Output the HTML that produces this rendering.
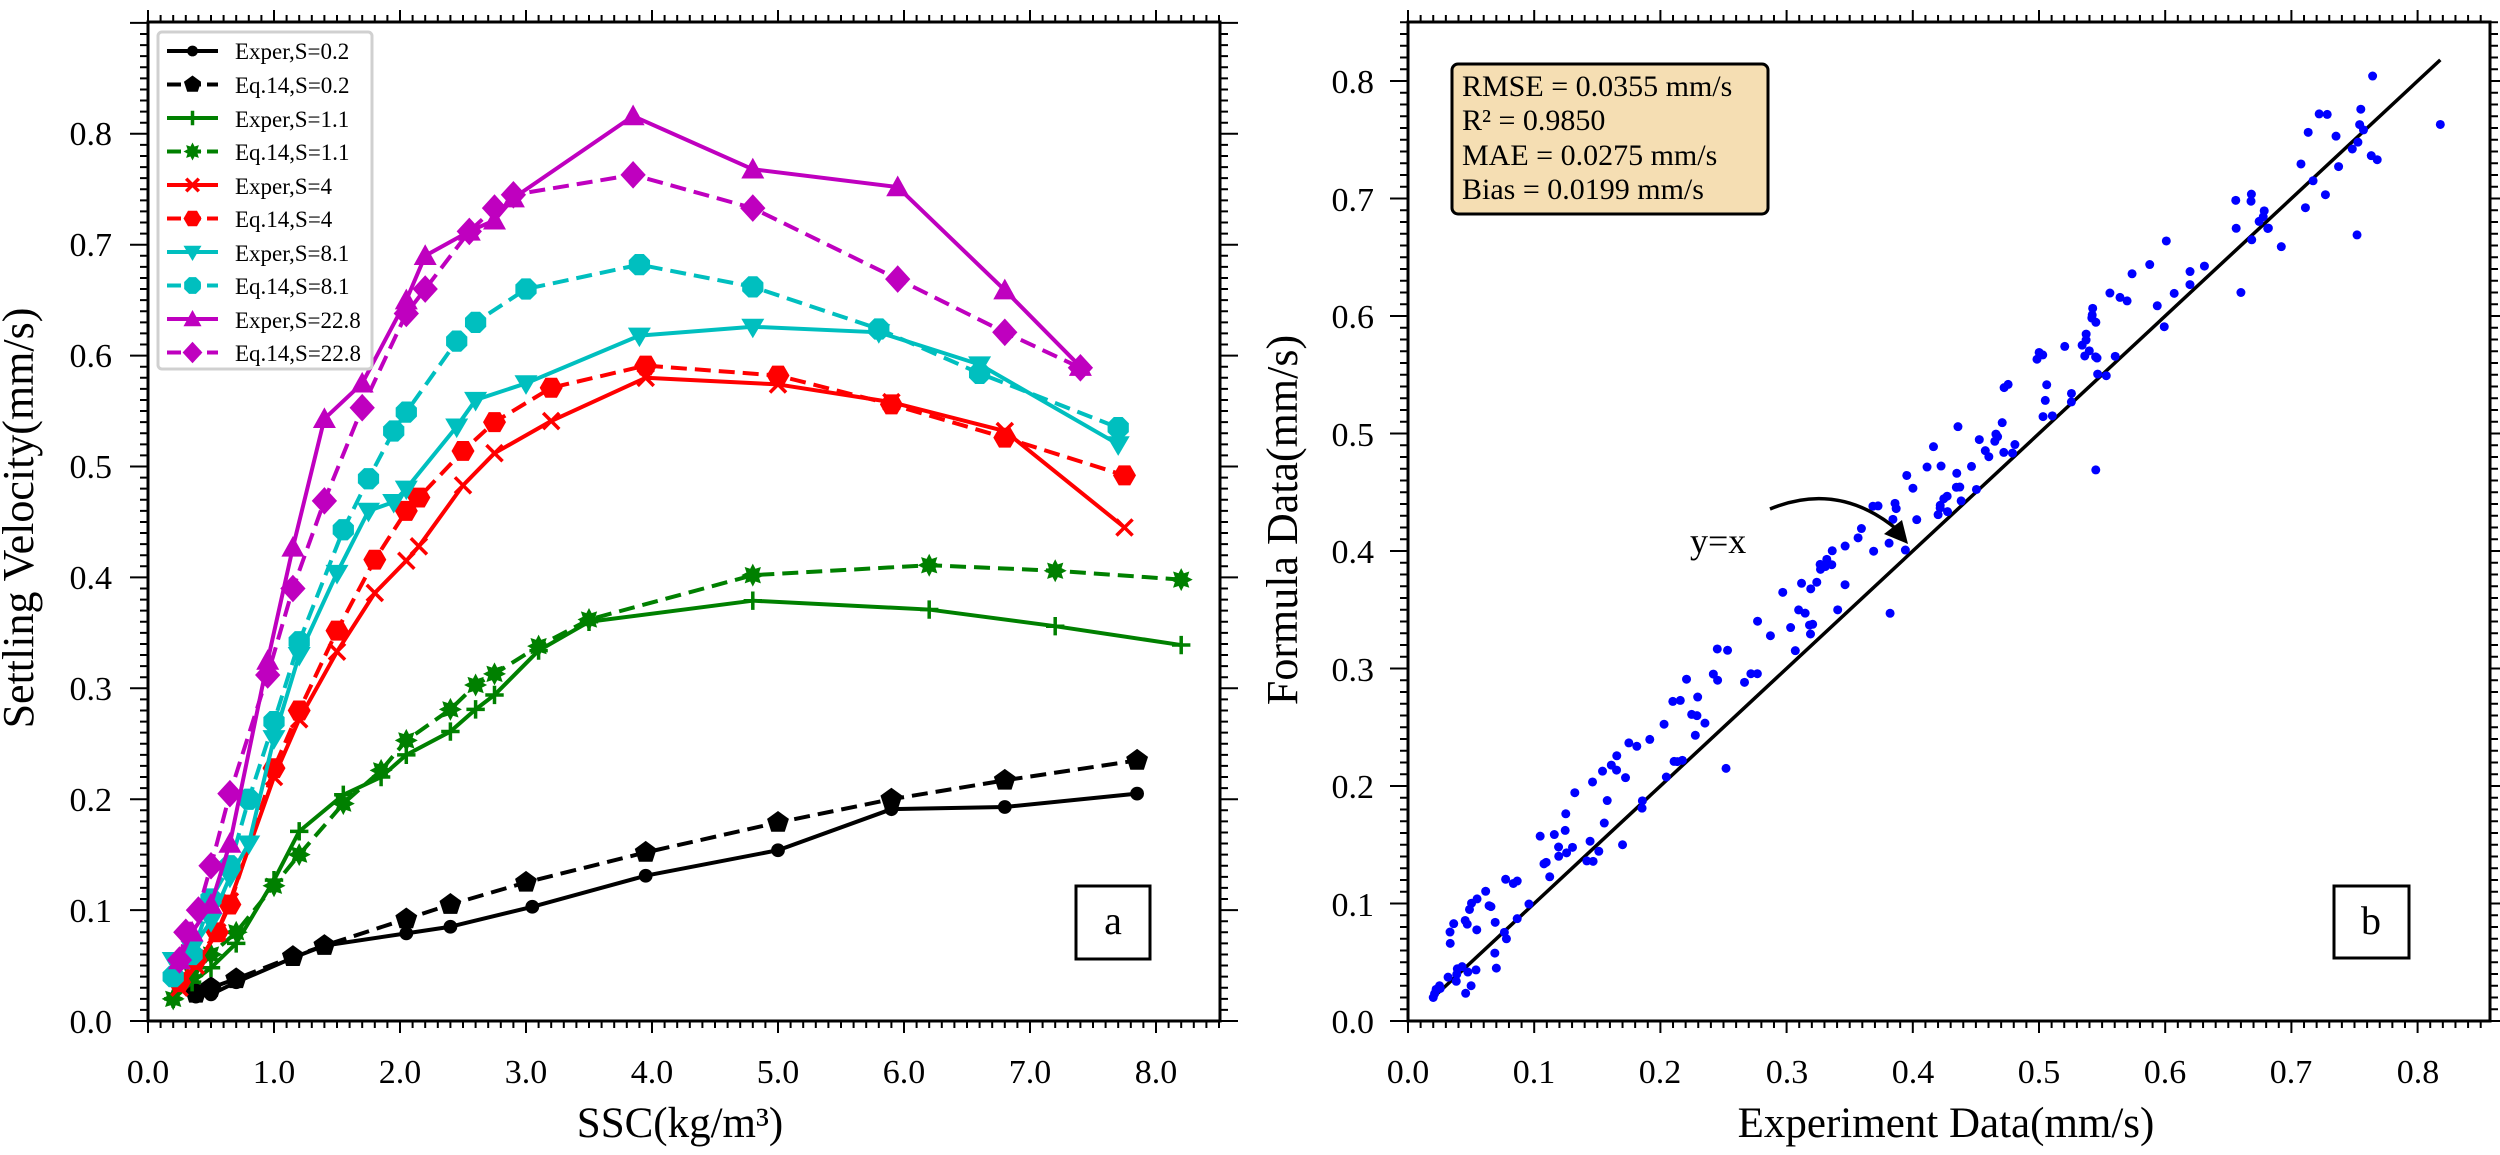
<!DOCTYPE html>
<html><head><meta charset="utf-8"><style>
html,body{margin:0;padding:0;background:#fff;}
svg{display:block;font-family:"Liberation Serif",serif;}
</style></head><body>
<svg id="s" width="2500" height="1155" viewBox="0 0 2500 1155" xmlns="http://www.w3.org/2000/svg">
<rect width="2500" height="1155" fill="#fff"/>
<g id="plotA"></g>
<g id="plotB"></g>
<g font-size="34" text-anchor="end" fill="#000">
<text x="112" y="1033">0.0</text><text x="112" y="922">0.1</text><text x="112" y="811">0.2</text><text x="112" y="700">0.3</text><text x="112" y="589">0.4</text><text x="112" y="478">0.5</text><text x="112" y="367">0.6</text><text x="112" y="256">0.7</text><text x="112" y="145">0.8</text>
</g>
<g font-size="34" text-anchor="middle" fill="#000">
<text x="148" y="1083">0.0</text><text x="274" y="1083">1.0</text><text x="400" y="1083">2.0</text><text x="526" y="1083">3.0</text><text x="652" y="1083">4.0</text><text x="778" y="1083">5.0</text><text x="904" y="1083">6.0</text><text x="1030" y="1083">7.0</text><text x="1156" y="1083">8.0</text>
</g>
<text x="680" y="1137" font-size="43" text-anchor="middle">SSC(kg/m³)</text>
<text transform="translate(33,518) rotate(-90)" font-size="44" text-anchor="middle">Settling Velocity(mm/s)</text>
<rect x="158" y="32" width="214" height="337" fill="#fff" stroke="#d0d0d0" stroke-width="3" rx="4"/>
<g id="leg"></g>
<g font-size="23" fill="#000">
<text x="235" y="59">Exper,S=0.2</text><text x="235" y="93">Eq.14,S=0.2</text><text x="235" y="127">Exper,S=1.1</text><text x="235" y="160">Eq.14,S=1.1</text><text x="235" y="194">Exper,S=4</text><text x="235" y="227">Eq.14,S=4</text><text x="235" y="261">Exper,S=8.1</text><text x="235" y="294">Eq.14,S=8.1</text><text x="235" y="328">Exper,S=22.8</text><text x="235" y="361">Eq.14,S=22.8</text>
</g>
<rect x="1076" y="886" width="74" height="73" fill="#fff" stroke="#000" stroke-width="3"/>
<text x="1113" y="934" font-size="40" text-anchor="middle">a</text>
<g font-size="34" text-anchor="end" fill="#000">
<text x="1374" y="1033">0.0</text><text x="1374" y="916">0.1</text><text x="1374" y="798">0.2</text><text x="1374" y="681">0.3</text><text x="1374" y="563">0.4</text><text x="1374" y="446">0.5</text><text x="1374" y="328">0.6</text><text x="1374" y="211">0.7</text><text x="1374" y="93">0.8</text>
</g>
<g font-size="34" text-anchor="middle" fill="#000">
<text x="1408" y="1083">0.0</text><text x="1534" y="1083">0.1</text><text x="1660" y="1083">0.2</text><text x="1787" y="1083">0.3</text><text x="1913" y="1083">0.4</text><text x="2039" y="1083">0.5</text><text x="2165" y="1083">0.6</text><text x="2291" y="1083">0.7</text><text x="2418" y="1083">0.8</text>
</g>
<text x="1946" y="1137" font-size="43" text-anchor="middle">Experiment Data(mm/s)</text>
<text transform="translate(1297,520) rotate(-90)" font-size="44" text-anchor="middle">Formula Data(mm/s)</text>
<rect x="1452" y="64" width="316" height="150" rx="6" fill="#f5deb3" stroke="#000" stroke-width="3"/>
<g font-size="30" fill="#000">
<text x="1462" y="96">RMSE = 0.0355 mm/s</text><text x="1462" y="130">R² = 0.9850</text><text x="1462" y="165">MAE = 0.0275 mm/s</text><text x="1462" y="199">Bias = 0.0199 mm/s</text>
</g>
<text x="1690" y="553" font-size="36">y=x</text>
<path d="M1770,509 Q1840,480 1900,532" fill="none" stroke="#000" stroke-width="3.5"/>
<polygon points="1908,544 1884,534 1902,520" fill="#000"/>
<rect x="2334" y="886" width="75" height="72" fill="#fff" stroke="#000" stroke-width="3"/>
<text x="2371" y="934" font-size="40" text-anchor="middle">b</text>
</svg>
<script>
(function(){
var NS="http://www.w3.org/2000/svg";
function el(p,t,a){var e=document.createElementNS(NS,t);for(var k in a)e.setAttribute(k,a[k]);p.appendChild(e);return e;}
var A=document.getElementById("plotA"),B=document.getElementById("plotB"),L=document.getElementById("leg");
var ax0=148,ax1=1220,ay0=1021,ay1=22;
function X(v){return 148+126*v;} function Y(v){return 1021-1109*v;}
var tk="";
for(var i=0;i<=85;i++){var x=X(i/10),L1=(i%10==0)?12:7;tk+="M"+x+","+ay0+"v"+L1+"M"+x+","+ay1+"v-"+L1;}
for(var i=0;i<=90;i++){var y=Y(i/100),L1=(i%10==0)?18:8;tk+="M"+ax0+","+y+"h-"+L1+"M"+ax1+","+y+"h"+L1;}
el(A,"path",{d:tk,stroke:"#000","stroke-width":2,fill:"none"});
el(A,"rect",{x:ax0,y:ay1,width:ax1-ax0,height:ay0-ay1,fill:"none",stroke:"#000","stroke-width":3});
function marker(g,t,cx,cy,c,s){s=s||1.15;
 if(t=="dot")el(g,"circle",{cx:cx,cy:cy,r:6*s,fill:c});
 else if(t=="pent"){var p="";for(var k=0;k<5;k++){var a=-Math.PI/2+k*2*Math.PI/5;p+=(cx+10*s*Math.cos(a))+","+(cy+10*s*Math.sin(a))+" ";}el(g,"polygon",{points:p,fill:c});}
 else if(t=="plus")el(g,"path",{d:"M"+(cx-8*s)+","+cy+"h"+16*s+"M"+cx+","+(cy-8*s)+"v"+16*s,stroke:c,"stroke-width":3.5});
 else if(t=="star"){var p="";for(var k=0;k<16;k++){var a=k*Math.PI/8,r=(k%2?6:10)*s;p+=(cx+r*Math.cos(a))+","+(cy+r*Math.sin(a))+" ";}el(g,"polygon",{points:p,fill:c});}
 else if(t=="x")el(g,"path",{d:"M"+(cx-7*s)+","+(cy-7*s)+"l"+14*s+","+14*s+"M"+(cx+7*s)+","+(cy-7*s)+"l-"+14*s+","+14*s,stroke:c,"stroke-width":3.5});
 else if(t=="hex"){var p="";for(var k=0;k<6;k++){var a=k*Math.PI/3;p+=(cx+10*s*Math.cos(a))+","+(cy+10*s*Math.sin(a))+" ";}el(g,"polygon",{points:p,fill:c});}
 else if(t=="tri")el(g,"polygon",{points:(cx-10*s)+","+(cy-7*s)+" "+(cx+10*s)+","+(cy-7*s)+" "+cx+","+(cy+10*s),fill:c});
 else if(t=="oct"){var p="";for(var k=0;k<8;k++){var a=Math.PI/8+k*Math.PI/4;p+=(cx+10*s*Math.cos(a))+","+(cy+10*s*Math.sin(a))+" ";}el(g,"polygon",{points:p,fill:c});}
 else if(t=="utri")el(g,"polygon",{points:(cx-10*s)+","+(cy+8*s)+" "+(cx+10*s)+","+(cy+8*s)+" "+cx+","+(cy-10*s),fill:c});
 else if(t=="dia")el(g,"polygon",{points:cx+","+(cy-12*s)+" "+(cx+11*s)+","+cy+" "+cx+","+(cy+12*s)+" "+(cx-11*s)+","+cy,fill:c});
}
var S=[
["#000","dot",0,[[0.38,0.022],[0.5,0.024],[0.7,0.035],[1.15,0.057],[1.4,0.068],[2.05,0.079],[2.4,0.085],[3.05,0.103],[3.95,0.131],[5.0,0.154],[5.9,0.191],[6.8,0.193],[7.85,0.205]]],
["#000","pent",1,[[0.38,0.025],[0.5,0.03],[0.7,0.038],[1.15,0.058],[1.4,0.068],[2.05,0.092],[2.4,0.105],[3.0,0.125],[3.95,0.152],[5.0,0.179],[5.9,0.2],[6.8,0.217],[7.85,0.235]]],
["#008000","plus",0,[[0.2,0.02],[0.35,0.035],[0.5,0.048],[0.7,0.07],[1.0,0.127],[1.2,0.171],[1.55,0.204],[1.85,0.22],[2.05,0.24],[2.4,0.261],[2.6,0.281],[2.75,0.294],[3.1,0.334],[3.5,0.36],[4.8,0.379],[6.2,0.371],[7.2,0.356],[8.2,0.339]]],
["#008000","star",1,[[0.2,0.02],[0.35,0.04],[0.5,0.06],[0.7,0.08],[1.0,0.122],[1.2,0.15],[1.55,0.196],[1.85,0.226],[2.05,0.253],[2.4,0.281],[2.6,0.303],[2.75,0.313],[3.1,0.338],[3.5,0.362],[4.8,0.402],[6.2,0.411],[7.2,0.406],[8.2,0.398]]],
["#ff0000","x",0,[[0.25,0.03],[0.38,0.05],[0.55,0.08],[0.65,0.108],[1.0,0.22],[1.2,0.272],[1.5,0.333],[1.8,0.386],[2.05,0.415],[2.15,0.428],[2.5,0.483],[2.75,0.512],[3.2,0.541],[3.95,0.58],[5.0,0.574],[5.9,0.558],[6.8,0.532],[7.75,0.445]]],
["#ff0000","hex",1,[[0.25,0.035],[0.38,0.055],[0.55,0.08],[0.65,0.105],[1.0,0.228],[1.2,0.28],[1.5,0.352],[1.8,0.416],[2.05,0.46],[2.15,0.472],[2.5,0.514],[2.75,0.54],[3.2,0.571],[3.95,0.591],[5.0,0.582],[5.9,0.556],[6.8,0.526],[7.75,0.492]]],
["#00bfbf","tri",0,[[0.2,0.055],[0.35,0.065],[0.5,0.09],[0.65,0.13],[0.8,0.16],[1.0,0.255],[1.2,0.33],[1.5,0.404],[1.75,0.46],[1.95,0.468],[2.05,0.48],[2.45,0.536],[2.6,0.56],[3.0,0.575],[3.9,0.618],[4.8,0.626],[5.8,0.621],[6.6,0.592],[7.7,0.52]]],
["#00bfbf","oct",1,[[0.2,0.04],[0.35,0.06],[0.5,0.11],[0.65,0.14],[0.8,0.2],[1.0,0.27],[1.2,0.342],[1.55,0.443],[1.75,0.489],[1.95,0.532],[2.05,0.549],[2.45,0.613],[2.6,0.63],[3.0,0.66],[3.9,0.682],[4.8,0.662],[5.8,0.624],[6.6,0.584],[7.7,0.535]]],
["#bf00bf","utri",0,[[0.25,0.055],[0.35,0.08],[0.5,0.105],[0.65,0.16],[0.95,0.325],[1.15,0.427],[1.4,0.543],[1.7,0.575],[2.05,0.65],[2.2,0.69],[2.55,0.712],[2.75,0.722],[2.9,0.742],[3.85,0.816],[4.8,0.768],[5.95,0.752],[6.8,0.659],[7.4,0.59]]],
["#bf00bf","dia",1,[[0.25,0.055],[0.3,0.08],[0.4,0.1],[0.5,0.14],[0.65,0.205],[0.95,0.312],[1.15,0.39],[1.4,0.469],[1.7,0.553],[2.05,0.638],[2.2,0.66],[2.55,0.712],[2.75,0.733],[2.9,0.745],[3.85,0.763],[4.8,0.733],[5.95,0.669],[6.8,0.621],[7.4,0.589]]]
];
S.forEach(function(s,i){
 var pts=s[3].map(function(p){return X(p[0])+","+Y(p[1]);}).join(" ");
 var a={points:pts,fill:"none",stroke:s[0],"stroke-width":4,"stroke-linejoin":"round"};
 if(s[2])a["stroke-dasharray"]="16,8";
 el(A,"polyline",a);
 s[3].forEach(function(p){marker(A,s[1],X(p[0]),Y(p[1]),s[0]);});
 var ly=51+i*33.5;
 var la={x1:167,x2:218,y1:ly,y2:ly,stroke:s[0],"stroke-width":4};
 if(s[2]){la["stroke-dasharray"]="14,6";}
 el(L,"line",la);
 marker(L,s[1],192.5,ly,s[0],0.9);
});
var bx0=1408,bx1=2490,by0=1021,by1=22;
function BX(v){return 1408+1262*v;} function BY(v){return 1021-1175*v;}
var tb="";
for(var i=0;i<=85;i++){var x=BX(i/100),L1=(i%10==0)?12:7;tb+="M"+x+","+by0+"v"+L1+"M"+x+","+by1+"v-"+L1;}
for(var i=0;i<=85;i++){var y=BY(i/100),L1=(i%10==0)?18:8;tb+="M"+bx0+","+y+"h-"+L1+"M"+bx1+","+y+"h"+L1;}
el(B,"path",{d:tb,stroke:"#000","stroke-width":2,fill:"none"});
el(B,"rect",{x:bx0,y:by1,width:bx1-bx0,height:by0-by1,fill:"none",stroke:"#000","stroke-width":3});
el(B,"line",{x1:BX(0.02),y1:BY(0.02),x2:BX(0.818),y2:BY(0.818),stroke:"#000","stroke-width":3.5});
var seed=12345;function rnd(){seed=(seed*16807)%2147483647;return seed/2147483647;}
for(var i=0;i<205;i++){
 var u=rnd();var x=0.02+0.75*Math.pow(u,1.1);
 var bias=0.032*Math.sin(Math.min(x,0.75)/0.75*Math.PI)+0.008;
 var y=x+bias+(rnd()-0.5)*0.075;
 if(y<0.02)y=0.02+rnd()*0.01;
 el(B,"circle",{cx:BX(x),cy:BY(y),r:4.5,fill:"#0000ff"});
}
[[0.818,0.763],[0.755,0.776],[0.722,0.772],[0.752,0.669],[0.545,0.469],[0.382,0.347],[0.252,0.215],[0.17,0.15],[0.07,0.045],[0.05,0.03],[0.02,0.02],[0.025,0.03],[0.768,0.733],[0.692,0.659],[0.66,0.62]].forEach(function(p){el(B,"circle",{cx:BX(p[0]),cy:BY(p[1]),r:4.5,fill:"#0000ff"});});
})();
</script>
</body></html>
